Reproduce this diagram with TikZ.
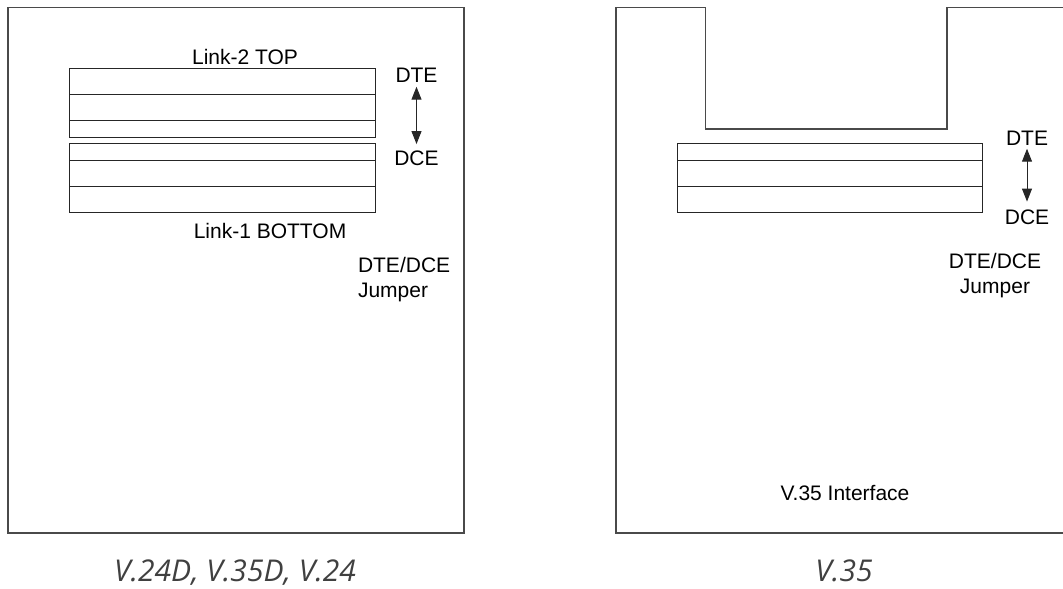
\documentclass[tikz,border=0pt]{standalone}
\usepackage{fontspec}
\setmainfont{Liberation Sans}
\newfontfamily\capfont{Open Sans}
\usetikzlibrary{arrows.meta}
\definecolor{frame}{HTML}{4A4A4A}
\tikzset{
  outline/.style={draw=frame, line width=1.4pt, line join=miter},
  conn/.style={draw=black!85, line width=1pt},
  lbl/.style={inner sep=0pt, outer sep=0pt, font=\fontsize{21}{25}\selectfont, text=black},
  caption/.style={inner sep=0pt, font=\capfont\itshape\fontsize{30}{34}\selectfont, text=black!75},
  jarrow/.style={draw=black!85, line width=1pt, {Triangle[width=10pt,length=13pt]}-{Triangle[width=10pt,length=13pt]}}
}
\begin{document}
\begin{tikzpicture}[x=1pt,y=-1pt]
\useasboundingbox (0,0) rectangle (1063,589);
\clip (0,0) rectangle (1063,589);
% ---------- left board ----------
\draw[outline] (8,7.5) rectangle (464,533);
% top connector (Link-2)
\draw[conn] (69,68.3) rectangle (375,137);
\draw[conn] (69,94.3) -- (375,94.3);
\draw[conn] (69,120.3) -- (375,120.3);
% bottom connector (Link-1)
\draw[conn] (69,143.3) rectangle (375,212.7);
\draw[conn] (69,160) -- (375,160);
\draw[conn] (69,186.3) -- (375,186.3);
\node[lbl] (l2top) at (245,56.5) {Link-2 TOP};
\node[lbl] (l1bot) at (270,230.5) {Link-1 BOTTOM};
\node[lbl] (dteL) at (416.5,75) {DTE};
\node[lbl] (dceL) at (416.5,158) {DCE};
\draw[jarrow, shorten <=4.5pt, shorten >=6.5pt] (dteL.south) -- (dceL.north);
\node[lbl, align=left, anchor=north west] (jmpL) at (358,257.5) {DTE/DCE\\Jumper};
\node[caption, anchor=base] (capL) at (235,581.5) {V.24D, V.35D, V.24};
% ---------- right board ----------
\draw[outline] (1075,7.5) -- (947,7.5) -- (947,129) -- (705.3,129) -- (705.3,7.5)
  -- (616,7.5) -- (616,533) -- (1075,533);
\draw[conn] (677,143.7) rectangle (982.7,212.7);
\draw[conn] (677,160.3) -- (982.7,160.3);
\draw[conn] (677,186.3) -- (982.7,186.3);
\node[lbl] (dteR) at (1027,138) {DTE};
\node[lbl] (dceR) at (1027,217) {DCE};
\draw[jarrow, shorten <=3.5pt, shorten >=8pt] (dteR.south) -- (dceR.north);
\node[lbl, align=center, anchor=north] (jmpR) at (995,253) {DTE/DCE\\Jumper};
\node[lbl] (v35if) at (845,492.5) {V.35 Interface};
\node[caption, anchor=base] (capR) at (844,581.5) {V.35};
\end{tikzpicture}
\end{document}
